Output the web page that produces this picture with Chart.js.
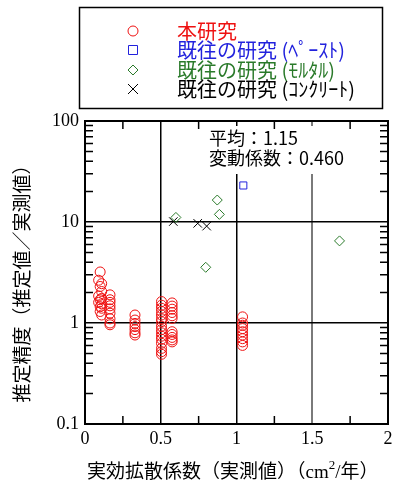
<!DOCTYPE html>
<html>
<head>
<meta charset="utf-8">
<script src="https://cdn.jsdelivr.net/npm/chart.js@4/dist/chart.umd.min.js"></script>
<style>
  html, body { margin: 0; padding: 0; background: #fff; }
  canvas { display: block; }
</style>
</head>
<body>
<canvas id="chart" width="403" height="495"></canvas>
<script>
// values
const ours_x = [0.10, 0.09, 0.11, 0.10, 0.11, 0.09, 0.11, 0.10, 0.09, 0.11, 0.10, 0.11, 0.10, 0.11,
                0.165, 0.165, 0.165, 0.165, 0.165, 0.165, 0.165, 0.165, 0.165,
                0.33, 0.33, 0.33, 0.33, 0.33, 0.33, 0.33,
                0.505, 0.505, 0.505, 0.505, 0.505, 0.505, 0.505, 0.505, 0.505, 0.505, 0.505, 0.505, 0.505, 0.505, 0.505, 0.505,
                0.575, 0.575, 0.575, 0.575, 0.575, 0.575, 0.575, 0.575, 0.575, 0.575, 0.575,
                1.04, 1.04, 1.04, 1.04, 1.04, 1.04, 1.04, 1.04, 1.04]
const ours_y = [3.2, 2.65, 2.45, 2.3, 2.05, 1.85, 1.75, 1.7, 1.6, 1.55, 1.45, 1.4, 1.3, 1.2,
                1.9, 1.7, 1.6, 1.48, 1.38, 1.25, 1.1, 1.0, 0.96,
                1.2, 1.07, 0.99, 0.92, 0.86, 0.8, 0.76,
                1.63, 1.5, 1.4, 1.3, 1.2, 1.1, 1.03, 0.93, 0.86, 0.8, 0.74, 0.69, 0.63, 0.56, 0.52, 0.49,
                1.58, 1.47, 1.37, 1.27, 1.18, 1.11, 0.82, 0.77, 0.72, 0.68, 0.65,
                1.15, 1.0, 0.95, 0.88, 0.82, 0.76, 0.7, 0.65, 0.6]
const paste_x = [1.045]
const paste_y = [23]
const mortar_x = [0.60, 0.873, 0.887, 0.797, 1.68]
const mortar_y = [11.1, 16.5, 11.9, 3.56, 6.5]
const concrete_x = [0.583, 0.744, 0.803]
const concrete_y = [10.1, 9.7, 9.1]

const legend_labels = ["本研究", "既往の研究 (ﾍﾟｰｽﾄ)", "既往の研究 (ﾓﾙﾀﾙ)", "既往の研究 (ｺﾝｸﾘｰﾄ)"]
const x_tick_values = [0, 0.5, 1, 1.5, 2]
const x_tick_labels = ["0", "0.5", "1", "1.5", "2"]
const y_tick_values = [0.1, 1, 10, 100]
const y_tick_labels = ["0.1", "1", "10", "100"]
const stat_lines = ["平均：1.15", "変動係数：0.460"]

const RED = "#ee1111"
const BLUE = "#2222dd"
const GREEN = "#2a7a2a"
const BLACK = "#000000"
const JP = '"Noto Sans CJK JP", sans-serif'
const SERIF = '"Liberation Serif", serif'

function to_points(xs, ys) {
    return xs.map((x, i) => ({x: x, y: ys[i]}))
}

const series = [
    {label: legend_labels[0], data: to_points(ours_x, ours_y), style: "circle", color: RED, r: 5},
    {label: legend_labels[1], data: to_points(paste_x, paste_y), style: "rect", color: BLUE, r: 5},
    {label: legend_labels[2], data: to_points(mortar_x, mortar_y), style: "rectRot", color: GREEN, r: 5},
    {label: legend_labels[3], data: to_points(concrete_x, concrete_y), style: "crossRot", color: BLACK, r: 6}
]

// frame, minor ticks, legend box, notes and axis titles
const decor = {
    id: "decor",
    afterDraw(chart) {
        const ctx = chart.ctx
        const a = chart.chartArea
        const xs = chart.scales.x
        const ys = chart.scales.y
        ctx.save()

        // stats note on a white box (hides the grid behind it)
        ctx.fillStyle = "#ffffff"
        ctx.fillRect(205, 126, 153, 48)
        ctx.fillStyle = BLACK
        ctx.font = "18px " + JP
        ctx.textAlign = "left"
        ctx.textBaseline = "middle"
        ctx.fillText(stat_lines[0], 209, 138)
        ctx.fillText(stat_lines[1], 209, 158)

        ctx.strokeStyle = BLACK
        ctx.lineWidth = 1.5
        ctx.beginPath()
        // x minor ticks
        for (const v of [0.25, 0.75, 1.25, 1.75]) {
            const px = xs.getPixelForValue(v)
            ctx.moveTo(px, a.bottom); ctx.lineTo(px, a.bottom - 8)
            ctx.moveTo(px, a.top); ctx.lineTo(px, a.top + 8)
        }
        // y minor ticks
        for (const d of [0.1, 1, 10]) {
            for (let k = 2; k <= 9; k++) {
                const py = ys.getPixelForValue(d * k)
                ctx.moveTo(a.left, py); ctx.lineTo(a.left + 8, py)
                ctx.moveTo(a.right, py); ctx.lineTo(a.right - 8, py)
            }
        }
        ctx.stroke()
        ctx.lineWidth = 2
        ctx.strokeRect(a.left, a.top, a.right - a.left, a.bottom - a.top)

        // legend box
        ctx.lineWidth = 1.5
        ctx.strokeRect(79.5, 7.5, 303, 101)
        const rows = [31, 50, 70, 89]
        series.forEach((s, i) => {
            const cy = rows[i]
            ctx.strokeStyle = s.color
            ctx.lineWidth = 1
            ctx.beginPath()
            if (s.style === "circle") ctx.arc(133, cy, 5, 0, Math.PI * 2)
            if (s.style === "rect") ctx.rect(128.5, cy - 4.5, 9, 9)
            if (s.style === "rectRot") { ctx.moveTo(133, cy - 5); ctx.lineTo(138, cy); ctx.lineTo(133, cy + 5); ctx.lineTo(128, cy); ctx.closePath() }
            if (s.style === "crossRot") { ctx.moveTo(128, cy - 5); ctx.lineTo(138, cy + 5); ctx.moveTo(138, cy - 5); ctx.lineTo(128, cy + 5) }
            ctx.stroke()
            ctx.fillStyle = s.color
            ctx.font = "20px " + JP
            ctx.fillText(s.label, 177, cy)
        })

        // x axis title
        ctx.fillStyle = BLACK
        ctx.textBaseline = "alphabetic"
        let tx = 87
        const ty = 478
        const piece = (txt, font, dy) => {
            ctx.font = font
            ctx.fillText(txt, tx, ty + (dy || 0))
            tx += ctx.measureText(txt).width
        }
        piece("実効拡散係数（実測値）（", "19px " + JP)
        piece("cm", "19px " + SERIF)
        piece("2", "13px " + SERIF, -9)
        piece("/", "19px " + SERIF)
        piece("年）", "19px " + JP)

        // y axis title
        ctx.save()
        ctx.translate(22, 279)
        ctx.rotate(-Math.PI / 2)
        ctx.textAlign = "center"
        ctx.textBaseline = "middle"
        ctx.font = "19px " + JP
        ctx.fillText("推定精度（推定値／実測値）", 0, 0)
        ctx.restore()
        ctx.restore()
    }
}

new Chart(document.getElementById("chart"), {
    type: "scatter",
    data: {
        datasets: series.map(s => ({
            label: s.label,
            data: s.data,
            pointStyle: s.style,
            pointRadius: s.r,
            borderColor: s.color,
            backgroundColor: "transparent",
            borderWidth: 1,
            showLine: false
        }))
    },
    options: {
        responsive: false,
        devicePixelRatio: 1,
        animation: false,
        layout: {padding: {top: 121, right: 15, left: 0, bottom: 0}},
        plugins: {legend: {display: false}, tooltip: {enabled: false}},
        scales: {
            x: {
                type: "linear",
                min: 0,
                max: 2,
                afterFit: s => { s.height = 71 },
                afterBuildTicks: s => { s.ticks = x_tick_values.map(v => ({value: v})) },
                ticks: {
                    callback: (v, i) => x_tick_labels[i],
                    color: BLACK,
                    font: {family: "Liberation Serif", size: 18},
                    padding: 4,
                    maxRotation: 0
                },
                grid: {
                    drawTicks: false,
                    lineWidth: c => c.tick && c.tick.value === 1.5 ? 2 : 1.5,
                    color: c => {
                        if (!c.tick) return "transparent"
                        if (c.tick.value === 0.5 || c.tick.value === 1) return BLACK
                        if (c.tick.value === 1.5) return "#7a7a7a"
                        return "transparent"
                    }
                },
                border: {display: false}
            },
            y: {
                type: "logarithmic",
                min: 0.1,
                max: 100,
                afterFit: s => { s.width = 85 },
                afterBuildTicks: s => { s.ticks = y_tick_values.map(v => ({value: v})) },
                ticks: {
                    callback: (v, i) => y_tick_labels[i],
                    color: BLACK,
                    font: {family: "Liberation Serif", size: 18},
                    padding: 6
                },
                grid: {
                    drawTicks: false,
                    lineWidth: 1.5,
                    color: c => c.tick && (c.tick.value === 1 || c.tick.value === 10) ? BLACK : "transparent"
                },
                border: {display: false}
            }
        }
    },
    plugins: [decor]
})
</script>
</body>
</html>
